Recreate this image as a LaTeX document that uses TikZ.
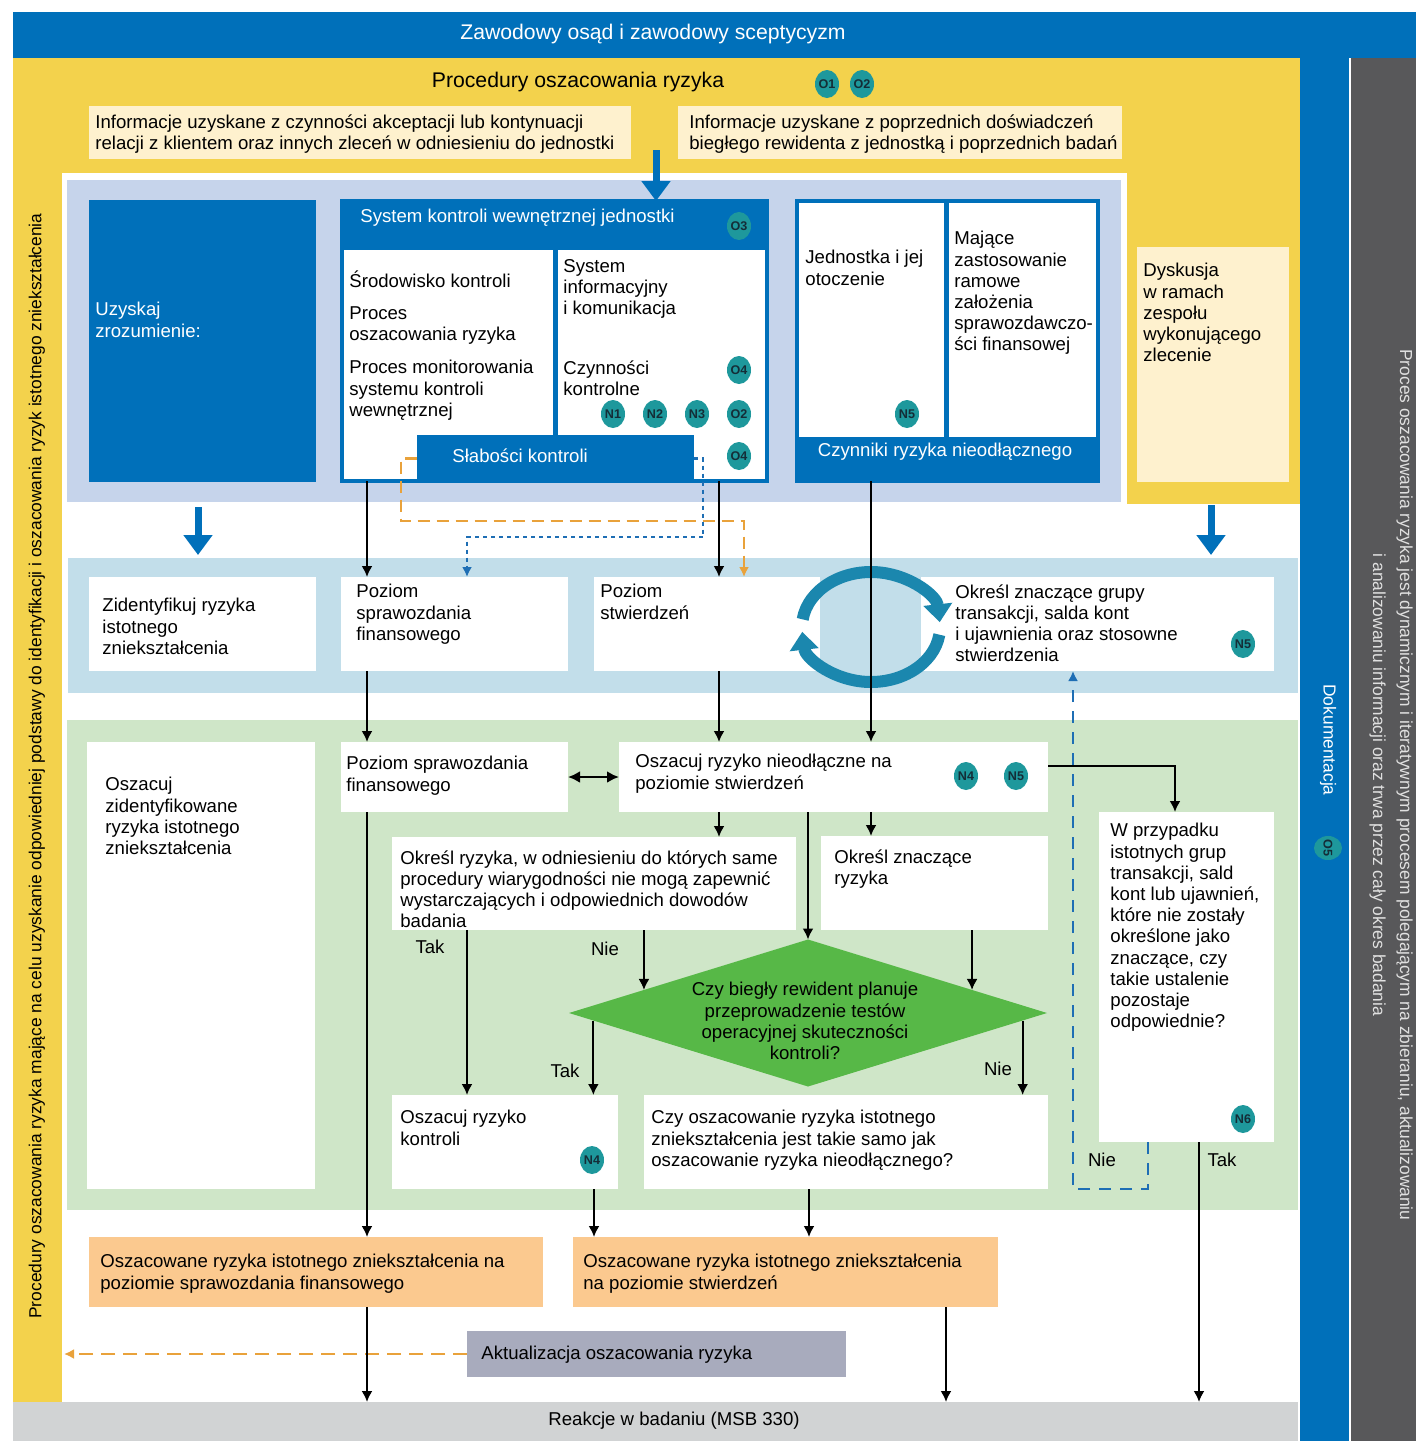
\documentclass[tikz,border=0pt]{standalone}
\usepackage{fontspec}
\setmainfont{Liberation Sans}
\usetikzlibrary{fit,shapes.geometric,arrows.meta}

\definecolor{mainblue}{RGB}{0,112,186}
\definecolor{yel}{RGB}{243,210,76}
\definecolor{cream}{RGB}{254,241,206}
\definecolor{peri}{RGB}{198,212,235}
\definecolor{bandblue}{RGB}{194,222,234}
\definecolor{grn}{RGB}{207,230,200}
\definecolor{orng}{RGB}{251,201,143}
\definecolor{grayb}{RGB}{209,211,212}
\definecolor{dgray}{RGB}{88,88,90}
\definecolor{badgec}{RGB}{30,152,156}
\definecolor{badgetx}{RGB}{20,45,55}
\definecolor{dmd}{RGB}{87,184,71}
\definecolor{cyc}{RGB}{27,135,174}
\definecolor{aktc}{RGB}{168,171,189}
\definecolor{odash}{RGB}{233,162,59}
\definecolor{bdash}{RGB}{30,110,180}

\newcommand\bxfont{\fontsize{9.3}{10.6}\selectfont}
\newcommand\ttlfont{\fontsize{10.6}{12}\selectfont}
\newcommand\sidefont{\fontsize{8.7}{13.5}\selectfont}
\newcommand\bdgfont{\fontsize{6.3}{7}\selectfont\bfseries}

\tikzset{
  area/.style={inner sep=0, outer sep=0},
  txt/.style={anchor=north west, align=left, inner sep=0, yshift=-1pt, font=\bxfont},
  lbl/.style={inner sep=0, font=\bxfont},
  badge/.style={ellipse, fill=badgec, text=badgetx, inner sep=0,
    minimum width=12pt, minimum height=14pt, font=\bdgfont},
  arr/.style={line width=1pt, -{Latex[length=5.5pt,width=5.5pt]}},
  bigarr/.style={line width=3.5pt, mainblue, -{Triangle[length=10pt,width=14pt]}},
  cycarr/.style={line width=6pt, cyc, -{Triangle[length=9pt,width=14pt]}},
  odashed/.style={odash, line width=1.2pt, dash pattern=on 6pt off 3.5pt, -{Latex[length=5pt,width=5pt]}},
  bdotted/.style={bdash, line width=1.2pt, dash pattern=on 2pt off 2pt, -{Latex[length=5pt,width=5pt]}},
}

\begin{document}
\begin{tikzpicture}[x=0.5pt,y=-0.5pt]
  \useasboundingbox (0,0) rectangle (1416,1441);
  \fill[white] (0,0) rectangle (1416,1441);

  % frames round the diagram
  \node[area, fill=mainblue, fit={(13,12) (1416,58)}] (top) {};
  \node[text=white, font=\ttlfont] (topT) at (653,34) {Zawodowy osąd i zawodowy sceptycyzm};
  \fill[yel] (13,58) rectangle (1300,1402);
  \fill[white] (62,173) rectangle (1127,1402);
  \fill[white] (1127,504) rectangle (1300,1402);
  \fill[mainblue] (1300,58) rectangle (1349,1441);
  \fill[dgray] (1351,58) rectangle (1416,1441);
  \node[area, fill=grayb, fit={(13,1402) (1298,1441)}] (reak) {};
  \node[font=\bxfont] (reakT) at (674,1421) {Reakcje w badaniu (MSB 330)};

  \node[rotate=90, font=\sidefont] (sideL) at (37,766) {Procedury oszacowania ryzyka mające na celu uzyskanie odpowiedniej podstawy do identyfikacji i oszacowania ryzyk istotnego zniekształcenia};
  \node[rotate=-90, align=center, font=\sidefont, text=white!88!black] (sideR) at (1391,785) {Proces oszacowania ryzyka jest dynamicznym i iteratywnym procesem polegającym na zbieraniu, aktualizowaniu\\i analizowaniu informacji oraz trwa przez cały okres badania};
  \node[rotate=-90, font=\sidefont, text=white] (dok) at (1328,740) {Dokumentacja};
  \node[badge, rotate=-90] (bO5) at (1328,848) {O5};

  % procedures
  \node[font=\ttlfont] (procT) at (578,82) {Procedury oszacowania ryzyka};
  \node[badge] (bO1) at (827,84) {O1};
  \node[badge] (bO2) at (862,84) {O2};

  \node[area, fill=cream, fit={(89,106) (631,159)}] (info1) {};
  \node[txt] (info1T) at (95,112) {Informacje uzyskane z czynności akceptacji lub kontynuacji\\relacji z klientem oraz innych zleceń w odniesieniu do jednostki};
  \node[area, fill=cream, fit={(678,106) (1122,159)}] (info2) {};
  \node[txt] (info2T) at (689,112) {Informacje uzyskane z poprzednich doświadczeń\\biegłego rewidenta z jednostką i poprzednich badań};

  % understanding
  \node[area, fill=peri, fit={(67,180) (1121,502)}] (peri) {};
  \node[area, fill=mainblue, fit={(89,200) (316,482)}] (uz) {};
  \node[txt, text=white] (uzT) at (95,300) {Uzyskaj\\zrozumienie:};

  \node[area, draw=mainblue, line width=2pt, fill=white, fit={(342,201) (767,481)}] (skw) {};
  \fill[mainblue] (341,200) rectangle (768,250);
  \draw[mainblue, line width=2.5pt] (555,250) -- (555,436);
  \node[txt, text=white] (skwT) at (360,207) {System kontroli wewnętrznej jednostki};
  \node[badge] (bO3) at (739,226) {O3};
  \node[txt] (srT) at (349,268) {Środowisko kontroli};
  \node[txt] (prT) at (349,304) {Proces\\oszacowania ryzyka};
  \node[txt] (pmT) at (349,358) {Proces monitorowania\\systemu kontroli\\wewnętrznej};
  \node[txt] (siT) at (563,257) {System\\informacyjny\\i komunikacja};
  \node[txt] (czT) at (563,358) {Czynności\\kontrolne};
  \node[badge] (bO4a) at (739,370) {O4};
  \node[badge] (bN1) at (613,414) {N1};
  \node[badge] (bN2) at (655,414) {N2};
  \node[badge] (bN3) at (697,414) {N3};
  \node[badge] (bO2b) at (739,414) {O2};
  \node[area, fill=mainblue, fit={(417,435) (694,482)}] (slab) {};
  \node[anchor=west, inner sep=0, font=\bxfont, text=white] (slabT) at (452,456) {Słabości kontroli};
  \node[badge] (bO4b) at (739,456) {O4};

  \node[area, draw=mainblue, line width=2pt, fill=white, fit={(797,201) (1098,481)}] (jed) {};
  \draw[mainblue, line width=2.5pt] (946,201) -- (946,437);
  \node[area, fill=mainblue, fit={(796,437) (1099,482)}] (czn) {};
  \node[font=\bxfont, text=white, inner sep=0] (cznT) at (945,452) {Czynniki ryzyka nieodłącznego};
  \node[txt] (jedT) at (805,248) {Jednostka i jej\\otoczenie};
  \node[txt] (majT) at (954,229) {Mające\\zastosowanie\\ramowe\\założenia\\sprawozdawczo-\\ści finansowej};
  \node[badge] (bN5a) at (907,414) {N5};

  \node[area, fill=cream, fit={(1137,247) (1289,482)}] (dys) {};
  \node[txt] (dysT) at (1143,261) {Dyskusja\\w ramach\\zespołu\\wykonującego\\zlecenie};

  % identification
  \node[area, fill=bandblue, fit={(68,558) (1298,693)}] (band) {};
  \node[area, fill=white, fit={(89,577) (316,671)}] (zid) {};
  \node[txt] (zidT) at (102,596) {Zidentyfikuj ryzyka\\istotnego\\zniekształcenia};
  \node[area, fill=white, fit={(341,577) (568,671)}] (pzs) {};
  \node[txt] (pzsT) at (356,582) {Poziom\\sprawozdania\\finansowego};
  \node[area, fill=white, fit={(594,577) (820,671)}] (pzst) {};
  \node[txt] (pzstT) at (600,582) {Poziom\\stwierdzeń};
  \node[area, fill=white, fit={(921,577) (1274,671)}] (okg) {};
  \node[txt] (okgT) at (955,582) {Określ znaczące grupy\\transakcji, salda kont\\i ujawnienia oraz stosowne\\stwierdzenia};
  \node[badge] (bN5b) at (1243,644) {N5};
  \draw[cycarr] (871,627) ++(188:69 and 55) arc[start angle=188, end angle=355, x radius=69, y radius=55];
  \draw[cycarr] (871,627) ++(8:69 and 55) arc[start angle=8, end angle=175, x radius=69, y radius=55];

  % assessment
  \node[area, fill=grn, fit={(67,720) (1298,1210)}] (grnA) {};
  \node[area, fill=white, fit={(87,742) (315,1189)}] (ozid) {};
  \node[txt] (ozidT) at (105,775) {Oszacuj\\zidentyfikowane\\ryzyka istotnego\\zniekształcenia};
  \node[area, fill=white, fit={(341,742) (568,812)}] (pzf) {};
  \node[txt] (pzfT) at (346,754) {Poziom sprawozdania\\finansowego};
  \node[area, fill=white, fit={(619,742) (1048,812)}] (oin) {};
  \node[txt] (oinT) at (635,752) {Oszacuj ryzyko nieodłączne na\\poziomie stwierdzeń};
  \node[badge] (bN4a) at (966,776) {N4};
  \node[badge] (bN5c) at (1016,776) {N5};
  \node[area, fill=white, fit={(392,837) (796,930)}] (ork) {};
  \node[txt] (orkT) at (400,848) {Określ ryzyka, w odniesieniu do których same\\procedury wiarygodności nie mogą zapewnić\\wystarczających i odpowiednich dowodów\\badania};
  \node[area, fill=white, fit={(821,836) (1048,930)}] (ozr) {};
  \node[txt] (ozrT) at (834,847) {Określ znaczące\\ryzyka};
  \node[diamond, area, fill=dmd, minimum width=239pt, minimum height=73.5pt] (q1) at (808,1013) {};
  \node[align=center, inner sep=0, font=\bxfont] (q1T) at (805,1021) {Czy biegły rewident planuje\\przeprowadzenie testów\\operacyjnej skuteczności\\kontroli?};
  \node[area, fill=white, fit={(392,1095) (618,1189)}] (okon) {};
  \node[txt] (okonT) at (400,1108) {Oszacuj ryzyko\\kontroli};
  \node[badge] (bN4b) at (592,1160) {N4};
  \node[area, fill=white, fit={(644,1095) (1048,1189)}] (czy) {};
  \node[txt] (czyT) at (651,1108) {Czy oszacowanie ryzyka istotnego\\zniekształcenia jest takie samo jak\\oszacowanie ryzyka nieodłącznego?};
  \node[area, fill=white, fit={(1099,812) (1274,1142)}] (wp) {};
  \node[txt] (wpT) at (1110,821) {W przypadku\\istotnych grup\\transakcji, sald\\kont lub ujawnień,\\które nie zostały\\określone jako\\znaczące, czy\\takie ustalenie\\pozostaje\\odpowiednie?};
  \node[badge] (bN6) at (1243,1119) {N6};

  \node[lbl] (tak1) at (430,947) {Tak};
  \node[lbl] (nie1) at (605,949) {Nie};
  \node[lbl] (tak2) at (565,1071) {Tak};
  \node[lbl] (nie2) at (998,1069) {Nie};
  \node[lbl] (nie3) at (1102,1160) {Nie};
  \node[lbl] (tak3) at (1222,1160) {Tak};

  % results
  \node[area, fill=orng, fit={(89,1237) (543,1307)}] (or1) {};
  \node[txt] (or1T) at (100,1252) {Oszacowane ryzyka istotnego zniekształcenia na\\poziomie sprawozdania finansowego};
  \node[area, fill=orng, fit={(573,1237) (998,1307)}] (or2) {};
  \node[txt] (or2T) at (583,1252) {Oszacowane ryzyka istotnego zniekształcenia\\na poziomie stwierdzeń};
  \node[area, fill=aktc, fit={(467,1331) (846,1377)}] (akt) {};
  \node[anchor=west, inner sep=0, font=\bxfont] (aktT) at (481,1355) {Aktualizacja oszacowania ryzyka};

  % blue arrows
  \coordinate (infoA) at (656,150);
  \coordinate (dysA) at (1211,505);
  \draw[bigarr] (infoA) -- (skw.north -| infoA);
  \draw[bigarr, shorten <=2.5pt, shorten >=1.5pt] (peri.south -| 198,0) -- (band.north -| 198,0);
  \draw[bigarr, shorten >=1.5pt] (dysA) -- (band.north -| dysA);

  % dashed links
  \draw[odashed] (slab.west) -| (401,521) -| (pzst.north -| 744,0);
  \draw[bdotted] (slab.east) -| (703,537) -| (pzs.north -| 467,0);
  \draw[bdash, line width=1.2pt, dash pattern=on 6pt off 4.5pt, -{Latex[length=5pt,width=5pt]}] (wp.south -| 1148,0) |- (1073,1189) -- (okg.south -| 1073,0);
  \coordinate (aktEnd) at (64,1354);
  \draw[odash, line width=1.2pt, dash pattern=on 7pt off 4pt, -{Latex[length=5pt,width=5pt]}] (akt.west) -- (aktEnd);

  % black arrows
  \draw[arr] (skw.south -| 367,0) -- (pzs.north -| 367,0);
  \draw[arr] (skw.south -| 719,0) -- (pzst.north -| 719,0);
  \draw[arr] (jed.south -| 871,0) -- (oin.north -| 871,0);
  \draw[arr] (pzs.south -| 367,0) -- (pzf.north -| 367,0);
  \draw[arr] (pzst.south -| 719,0) -- (oin.north -| 719,0);
  \draw[line width=1.2pt, {Latex[length=6pt,width=6pt]}-{Latex[length=6pt,width=6pt]}] (pzf.east) -- (oin.west);
  \draw[arr] (oin.east |- 0,766) -| (wp.north -| 1175,0);
  \draw[arr] (oin.south -| 719,0) -- (ork.north -| 719,0);
  \draw[arr] (oin.south -| 871,0) -- (ozr.north -| 871,0);
  \draw[arr] (oin.south -| q1.north) -- (q1.north);
  \draw[arr] (ork.south -| 467,0) -- (okon.north -| 467,0);
  \draw[arr] (ork.south -| q1.172) -- (q1.172);
  \draw[arr] (ozr.south -| q1.8) -- (q1.8);
  \draw[arr] (q1.182) -- (okon.north -| q1.182);
  \draw[arr] (q1.358) -- (czy.north -| q1.358);
  \draw[arr] (pzf.south -| 367,0) -- (or1.north -| 367,0);
  \draw[arr] (okon.south -| 594,0) -- (or2.north -| 594,0);
  \draw[arr] (czy.south -| 809,0) -- (or2.north -| 809,0);
  \draw[arr] (wp.south -| 1199,0) -- (reak.north -| 1199,0);
  \draw[arr] (or1.south -| 367,0) -- (reak.north -| 367,0);
  \draw[arr] (or2.south -| 946,0) -- (reak.north -| 946,0);
\end{tikzpicture}
\end{document}
